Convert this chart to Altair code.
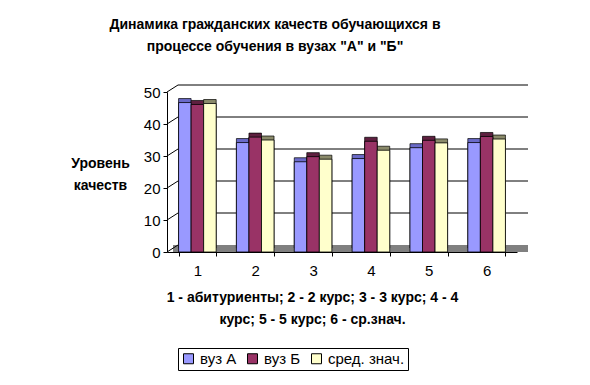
import altair as alt
import pandas as pd

categories = ["1", "2", "3", "4", "5", "6"]
series = ["вуз А", "вуз Б", "сред. знач."]
vuz_a = [46.7, 34.2, 28.2, 29.2, 32.6, 34.2]
vuz_b = [46.1, 35.9, 29.8, 34.6, 34.9, 36.1]
avg = [46.4, 35.0, 29.0, 31.8, 34.1, 35.3]
front_colors = ["#9999FF", "#993366", "#FFFFCC"]
shade_colors = ["#6A6AC8", "#5E1F3F", "#8A8A6A"]
grid_values = [0, 10, 20, 30, 40, 50]

FONT = "Liberation Sans"
W, H = 350, 160

rows = []
for s, vals, sc in zip(series, [vuz_a, vuz_b, avg], shade_colors):
    for c, v in zip(categories, vals):
        rows.append({"cat": c, "series": s, "value": v, "shade": sc})
df = pd.DataFrame(rows)
grid_df = pd.DataFrame({"v": grid_values})

yscale = alt.Scale(domain=[0, 50])
xscale = alt.Scale(paddingInner=0.35)

x_enc = alt.X(
    "cat:N", sort=categories, scale=xscale,
    axis=alt.Axis(
        title=["1 - абитуриенты; 2 - 2 курс; 3 - 3 курс; 4 - 4", "курс; 5 - 5 курс; 6 - ср.знач."],
        titleX=145, titleY=38, titleAlign="center", titleBaseline="top",
        titleFont=FONT, titleFontSize=14, titleFontWeight="bold", titleLineHeight=22,
        titleColor="black",
        labelAngle=0, labelFont=FONT, labelFontSize=15, labelColor="black",
        labelPadding=7, tickSize=4, tickBand="extent", tickColor="black",
        domainColor="black",
    ),
)
y_axis = alt.Axis(
    values=grid_values, grid=False, labelOverlap=False,
    title=["Уровень", "качеств"], titleAngle=0, titleX=-67, titleY=64,
    titleAlign="center", titleBaseline="top",
    titleFont=FONT, titleFontSize=14, titleFontWeight="bold", titleLineHeight=22,
    titleColor="black",
    labelFont=FONT, labelFontSize=15, labelColor="black", labelPadding=3,
    tickSize=4, tickColor="black", domainColor="black",
)
y_enc = alt.Y("value:Q", scale=yscale, axis=y_axis)
yv = alt.Y("v:Q", scale=yscale, axis=y_axis)
xoff = alt.XOffset("series:N", sort=series, scale=alt.Scale(paddingInner=0, paddingOuter=0))

floor = alt.Chart(grid_df).transform_filter("datum.v == 0").mark_rect(
    color="#808080", y2Offset=-7
).encode(
    x=alt.value(6), x2=alt.value(W + 11),
    y=yv, y2=alt.Y2("v:Q"),
)

grid = alt.Chart(grid_df).transform_filter("datum.v > 0").mark_rule(
    color="black", strokeWidth=1, yOffset=-7
).encode(
    x=alt.value(11), x2=alt.value(W + 11),
    y=yv,
)

diag = alt.Chart(grid_df).mark_rule(color="black", strokeWidth=1, y2Offset=-7).encode(
    x=alt.value(0), x2=alt.value(11),
    y=yv, y2=alt.Y2("v:Q"),
)

shadow = alt.Chart(df).mark_bar(
    stroke="black", strokeWidth=0.7, xOffset=7, yOffset=-4
).encode(
    x=x_enc, xOffset=xoff, y=y_enc,
    color=alt.Color("shade:N", scale=None),
)

front = alt.Chart(df).mark_bar(
    stroke="black", strokeWidth=0.8, xOffset=3
).encode(
    x=x_enc, xOffset=xoff, y=y_enc,
    color=alt.Color(
        "series:N", sort=series,
        scale=alt.Scale(domain=series, range=front_colors),
        legend=alt.Legend(
            title=None, orient="none", legendX=11, legendY=256, direction="horizontal",
            strokeColor="black", padding=3, symbolType="square", symbolSize=100,
            symbolStrokeColor="black", symbolStrokeWidth=1, symbolOpacity=1,
            labelFont=FONT, labelFontSize=15, labelColor="black", columnPadding=8,
            labelOffset=4,
        ),
    ),
)

chart = alt.layer(floor, grid, diag, shadow, front).resolve_scale(color="independent").properties(
    width=W, height=H,
    autosize=alt.AutoSizeParams(type="none"),
    padding={"left": 159, "top": 84, "right": 60, "bottom": 120},
    background="white",
    title=alt.TitleParams(
        text=["Динамика гражданских качеств обучающихся в", "процессе обучения в вузах \"А\" и \"Б\""],
        font=FONT, fontSize=14, fontWeight="bold", color="black", anchor="middle",
        dx=-67, offset=31, lineHeight=22,
    ),
).configure_view(stroke=None)

chart.save("out.html", embed_options={"renderer": "svg", "actions": False})
